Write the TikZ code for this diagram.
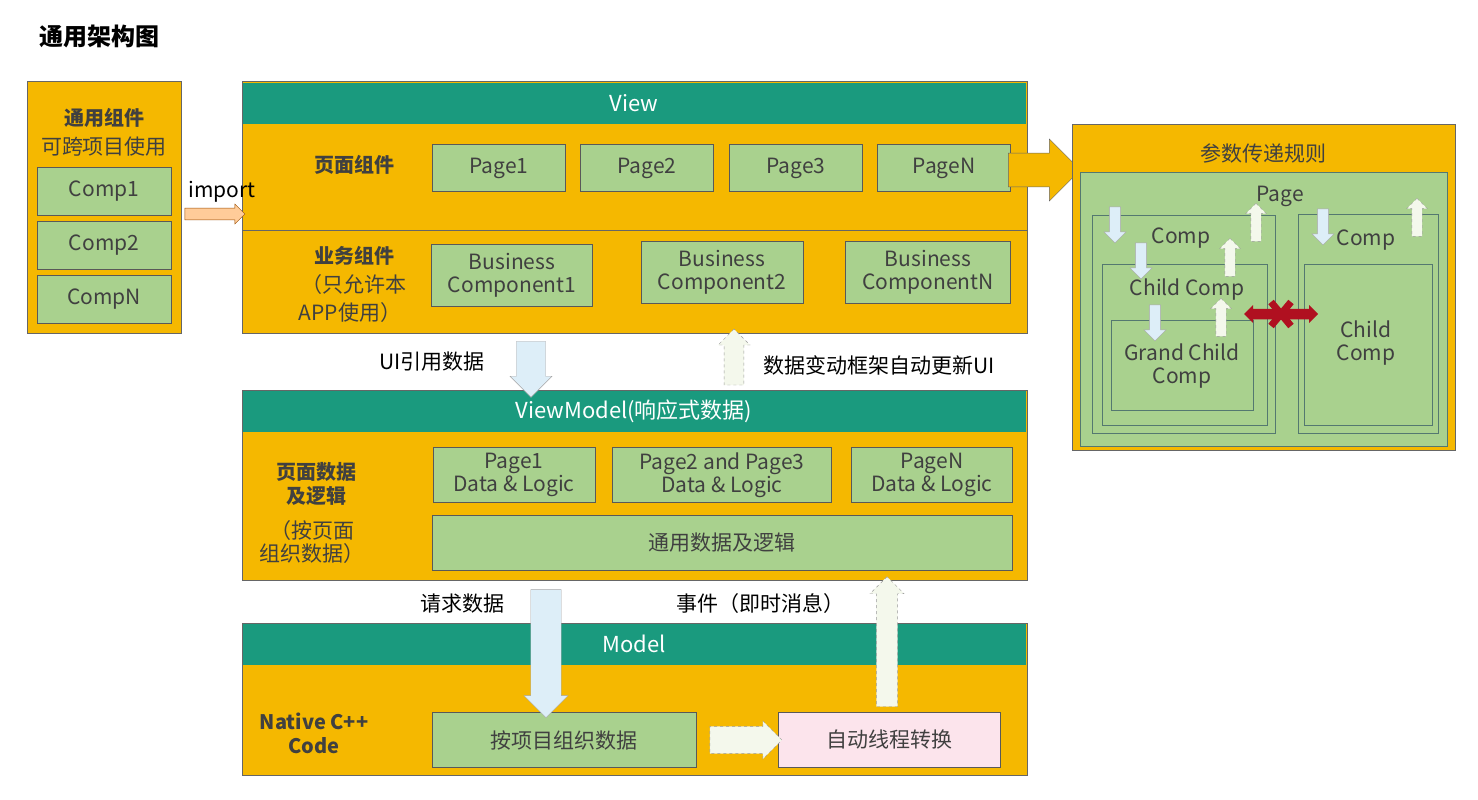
\documentclass[tikz,border=0pt]{standalone}
\usepackage{fontspec}
\setmainfont{Noto Sans CJK SC}
\usetikzlibrary{shapes.arrows, positioning}
\definecolor{teal}{HTML}{1A9A7E}
\definecolor{gold}{HTML}{F5B800}
\definecolor{leaf}{HTML}{A9D18E}
\definecolor{ink}{HTML}{404040}
\definecolor{ice}{HTML}{DDEEF8}
\definecolor{cream}{HTML}{F4F8EC}
\definecolor{rose}{HTML}{FCE4EC}
\definecolor{blood}{HTML}{B01020}
\begin{document}
\begin{tikzpicture}[x=1pt,y=-1pt,
    txt/.style={font=\fontsize{21}{23}\selectfont,text=ink},
    bold/.style={font=\fontsize{20}{24}\selectfont\bfseries,text=ink},
    panel/.style={fill=gold,draw=gray!80!black,line width=1pt},
    head/.style={fill=teal,draw=none,text=white,font=\fontsize{22}{24}\selectfont},
    box/.style={fill=leaf,draw=gray!70!black,line width=0.8pt,txt,align=center,inner sep=0pt},
    frame/.style={draw=teal!40!black!70,line width=0.8pt},
    fat/.style={single arrow,inner xsep=0pt,inner ysep=#1,single arrow head extend=5pt},
    down/.style={fat=#1,rotate=-90,fill=ice,draw=gray!70},
    up/.style={fat=#1,rotate=90,fill=cream,draw=gray!80,dashed}]
  \useasboundingbox (0,0) rectangle (1478,800);
  \fill[white] (0,0) rectangle (1478,800);

  \node[font=\fontsize{24}{26}\selectfont\bfseries,anchor=west] (title) at (36,36) {通用架构图};

  % common components
  \draw[panel] (27,82) rectangle (181,333);
  \node[bold] (cTitle) at (104,118) {通用组件};
  \node[txt] (cSub) at (104,147) {可跨项目使用};
  \foreach \y/\t [count=\i] in {191/Comp1,245/Comp2,299/CompN}
    \node[box,minimum width=134,minimum height=48] (comp\i) at (104,\y) {\t};

  % View
  \draw[panel] (242,82) rectangle (1027,333);
  \fill[teal] (243,83) rectangle (1026,124);
  \node[head] (view) at (634,103) {View};
  \draw[gray!80!black,line width=1pt] (242,230) -- (1027,230);
  \node[bold] (pgLbl) at (354,165) {页面组件};
  \foreach \x/\t [count=\i] in {499/Page1,647/Page2,796/Page3,944/PageN}
    \node[box,minimum width=133,minimum height=47] (page\i) at (\x,168) {\t};
  \node[bold] (bzLbl) at (354,256) {业务组件};
  \node[txt] (bzSub) at (354,285) {（只允许本};
  \node[txt] (bzSub2) at (350,313) {APP使用）};
  \node[box,minimum width=161,minimum height=62] (biz1) at (512,275) {Business\\Component1};
  \node[box,minimum width=162,minimum height=62] (biz2) at (722,272) {Business\\Component2};
  \node[box,minimum width=165,minimum height=62] (biz3) at (928,272) {Business\\ComponentN};

  % import arrow
  \node[fat=4pt,fill=orange!40,draw=orange!60!black,minimum height=60,minimum width=20,
        single arrow head extend=3pt] (imp) at (212,214) {};
  \node[txt,text=black] (impLbl) at (222,192) {import};

  % transfer arrow
  \node[fat=14pt,fill=gold,draw=gray!80!black,minimum height=72,minimum width=62,
        single arrow head extend=12pt] (toRule) at (1036,170) {};

  % rules panel
  \draw[panel] (1072,124) rectangle (1455,450);
  \node[txt] (ruleTitle) at (1263,153) {参数传递规则};
  \draw[fill=leaf,frame] (1080,172) rectangle (1447,446);
  \node[txt] (pageLbl) at (1280,196) {Page};
  \draw[frame] (1092,215) rectangle (1275,433);
  \draw[frame] (1102,264) rectangle (1267,425);
  \draw[frame] (1111,320) rectangle (1253,410);
  \draw[frame] (1298,214) rectangle (1438,433);
  \draw[frame] (1304,264) rectangle (1432,425);
  \node[txt] (comp) at (1181,238) {Comp};
  \node[txt] (child) at (1187,290) {Child Comp};
  \node[txt,align=center] (grand) at (1182,366) {Grand Child\\Comp};
  \node[txt] (compR) at (1366,240) {Comp};
  \node[txt,align=center] (childR) at (1366,343) {Child\\Comp};
  \foreach \x/\y in {1115/222,1141/258,1155/320,1323/224}
    \node[down=5pt,minimum height=36,minimum width=22] at (\x,\y) {};
  \foreach \x/\y in {1256/225,1230/260,1221/320,1417/220}
    \node[up=5pt,minimum height=38,minimum width=20] at (\x,\y) {};
  \node[double arrow,fill=blood,inner xsep=0pt,inner ysep=4pt,minimum height=74,minimum width=18,
        double arrow head extend=3pt] (noPass) at (1281,314) {};
  \draw[blood,line width=7pt] (1271,302) -- (1291,326) (1271,326) -- (1291,302);

  % ViewModel
  \draw[panel] (242,390) rectangle (1027,580);
  \fill[teal] (243,391) rectangle (1026,432);
  \node[head] (vm) at (634,411) {ViewModel(响应式数据)};
  \node[bold,align=center] (vmLbl) at (316,484) {页面数据\\及逻辑};
  \node[txt,align=center] (vmSub) at (312,542) {（按页面\\组织数据）};
  \node[box,minimum width=162,minimum height=55] (d1) at (514,475) {Page1\\Data \& Logic};
  \node[box,minimum width=219,minimum height=55] (d2) at (722,475) {Page2 and Page3\\Data \& Logic};
  \node[box,minimum width=161,minimum height=55] (d3) at (932,475) {PageN\\Data \& Logic};
  \node[box,minimum width=580,minimum height=55] (common) at (722,543) {通用数据及逻辑};

  % Model
  \draw[panel] (242,623) rectangle (1027,775);
  \fill[teal] (243,624) rectangle (1026,665);
  \node[head] (model) at (634,644) {Model};
  \node[bold,align=center] (nativeLbl) at (314,733) {Native C++\\Code};
  \node[box,minimum width=264,minimum height=55] (store) at (564,740) {按项目组织数据};
  \node[box,fill=rose,minimum width=222,minimum height=55] (thread) at (889,740) {自动线程转换};
  \node[fat=10pt,fill=cream,draw=gray!80,dashed,minimum height=72,minimum width=38,
        single arrow head extend=4pt] (sw) at (739,740) {};

  % between layers
  \node[down=11pt,minimum height=56,minimum width=42] (uiRef) at (531,362) {};
  \node[txt,text=black,anchor=east] (uiRefLbl) at (488,362) {UI引用数据};
  \node[up=8pt,minimum height=56,minimum width=32] (upd) at (734,362) {};
  \node[txt,text=black,anchor=west] (updLbl) at (760,365) {数据变动框架自动更新UI};
  \node[down=11pt,minimum height=128,minimum width=44] (req) at (546,646) {};
  \node[txt,text=black] (reqLbl) at (462,604) {请求数据};
  \node[up=8pt,minimum height=130,minimum width=34] (evt) at (887,647) {};
  \node[txt,text=black] (evtLbl) at (760,604) {事件（即时消息）};
\end{tikzpicture}
\end{document}
